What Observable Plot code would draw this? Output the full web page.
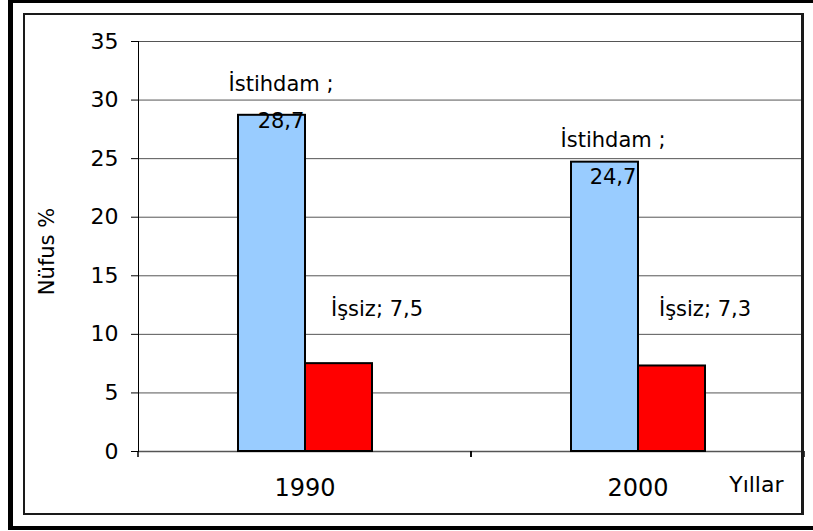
<!DOCTYPE html>
<html><head><meta charset="utf-8">
<script src="https://cdn.jsdelivr.net/npm/d3@7"></script>
<script src="https://cdn.jsdelivr.net/npm/@observablehq/plot@0.6"></script>
<style>
html,body{margin:0;padding:0;background:#fff;overflow:hidden}
#wrap{position:relative;width:813px;height:531px;overflow:hidden;background:#fff}
#chart{position:absolute;left:0;top:0}
.bar{position:absolute;background:#000}
#inner{position:absolute;left:23px;top:13px;width:781px;height:502px;border:2px solid #1a1a1a;border-right-width:3px;box-sizing:border-box}
</style>
</head><body>
<div id="wrap"><div id="chart"></div>
<div class="bar" style="left:8px;top:0;width:805px;height:3px"></div>
<div class="bar" style="left:8px;top:0;width:5px;height:530px"></div>
<div class="bar" style="left:8px;top:526px;width:805px;height:4px"></div>
<div id="inner"></div></div>
<script>
const years = ["1990", "2000"];
const series = ["İstihdam", "İşsiz"];
const istihdam = [28.7, 24.7];
const issiz = [7.5, 7.3];
const yTicks = [0, 5, 10, 15, 20, 25, 30, 35];
const xTitle = "Yıllar";
const yTitle = "Nüfus %";
const colors = ["#99CCFF", "#FF0000"];

const data = years.flatMap((y, i) => [
  {year: y, series: series[0], value: istihdam[i]},
  {year: y, series: series[1], value: issiz[i]}
]);
const fmt = v => String(v).replace(".", ",");
const pick = (s, y) => data.filter(d => d.series === s && d.year === y);

const catTicks = (index, scales, values, dims) => {
  const g = d3.create("svg:g").attr("stroke", "#000").attr("stroke-width", 1.5);
  const r = scales.x.range();
  const y0 = scales.y(0);
  for (const x of r) {
    g.append("line").attr("x1", x).attr("x2", x).attr("y1", y0).attr("y2", y0 + 6);
  }
  return g.node();
};

const plot = Plot.plot({
  width: 813,
  height: 531,
  marginLeft: 138,
  marginRight: 9,
  marginTop: 41,
  marginBottom: 80,
  style: {fontFamily: "'DejaVu Sans', sans-serif", background: "transparent", color: "#000"},
  fx: {domain: years, paddingInner: 0, paddingOuter: 0, axis: null},
  x: {domain: series, paddingInner: 0, paddingOuter: 1.485, axis: null},
  y: {domain: [0, 35], axis: null},
  color: {domain: series, range: colors},
  marks: [
    Plot.gridY(yTicks, {stroke: "#555", strokeOpacity: 1}),
    Plot.ruleY([0], {stroke: "#555", strokeWidth: 1.5}),
    Plot.barY(data, {fx: "year", x: "series", y: "value", fill: "series", stroke: "#000", strokeWidth: 2}),
    Plot.frame({anchor: "left", facet: "super", stroke: "#000"}),
    catTicks,
    Plot.axisY(yTicks, {tickSize: 7, tickPadding: 13, fontSize: 22, label: null, stroke: "#000"}),
    Plot.axisFx({anchor: "bottom", tickSize: 0, tickPadding: 27, fontSize: 24, label: null}),
    Plot.text(pick(series[0], years[0]), {fx: "year", x: "series", y: "value", text: d => `${d.series} ;\n${fmt(d.value)}`, lineAnchor: "bottom", lineHeight: 1.76, dx: 9, dy: 13, fontSize: 21}),
    Plot.text(pick(series[0], years[1]), {fx: "year", x: "series", y: "value", text: d => `${d.series} ;\n${fmt(d.value)}`, lineAnchor: "bottom", lineHeight: 1.76, dx: 8, dy: 22, fontSize: 21}),
    Plot.text(pick(series[1], years[0]), {fx: "year", x: "series", y: "value", text: d => `${d.series}; ${fmt(d.value)}`, lineAnchor: "bottom", dx: 38, dy: -48, fontSize: 21}),
    Plot.text(pick(series[1], years[1]), {fx: "year", x: "series", y: "value", text: d => `${d.series}; ${fmt(d.value)}`, lineAnchor: "bottom", dx: 33, dy: -50, fontSize: 21}),
    Plot.text([yTitle], {facet: "super", frameAnchor: "left", textAnchor: "middle", rotate: -90, text: d => d, dx: -91, dy: 5, fontSize: 21}),
    Plot.text([xTitle], {facet: "super", frameAnchor: "bottom-right", text: d => d, textAnchor: "end", lineAnchor: "bottom", dx: -21, dy: 40, fontSize: 22})
  ]
});
document.getElementById("chart").appendChild(plot);
</script>
</body></html>
